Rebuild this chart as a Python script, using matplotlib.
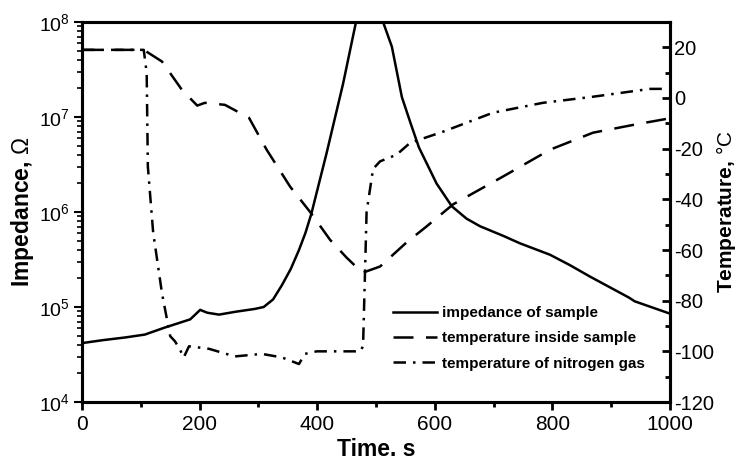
import numpy as np
import matplotlib
matplotlib.use("Agg")
import matplotlib.pyplot as plt
from matplotlib.ticker import MultipleLocator, LogLocator, NullFormatter
from matplotlib.lines import Line2D

plt.rcParams['font.family'] = ['Liberation Sans', 'DejaVu Sans']
plt.rcParams['mathtext.fontset'] = 'custom'
plt.rcParams['mathtext.rm'] = 'Liberation Sans'
plt.rcParams['mathtext.it'] = 'Liberation Sans'
plt.rcParams['axes.unicode_minus'] = False

# impedance of sample (log10 of ohm)
t_imp = [0, 34, 74, 107, 139, 184, 201, 213, 233, 261, 294, 309, 325, 340, 355, 369, 380, 390,
         416, 444, 466, 478, 490, 500, 512, 527, 544, 558, 573, 603, 629, 654, 677, 716, 745,
         796, 830, 864, 930, 935, 940, 1000]
log_imp = [4.62, 4.65, 4.68, 4.71, 4.78, 4.87, 4.97, 4.94, 4.92, 4.95, 4.98, 5.0, 5.08, 5.23,
           5.40, 5.6, 5.78, 5.98, 6.62, 7.35, 8.0, 8.3, 8.4, 8.3, 8.0, 7.74, 7.21, 6.95, 6.68,
           6.30, 6.06, 5.93, 5.85, 5.75, 5.67, 5.55, 5.44, 5.32, 5.10, 5.08, 5.06, 4.93]
imp = [10 ** v for v in log_imp]

# temperature inside sample (degC)
t_in = [0, 105, 136, 170, 196, 209, 243, 284, 314, 354, 388, 422, 450, 477, 507, 552, 586,
        631, 716, 796, 869, 940, 1000]
T_in = [19, 19, 14.4, 3.2, -3, -1.9, -2.7, -7.8, -20.4, -35, -45, -56, -63, -69, -66.5, -57,
        -50.7, -42, -31, -20.4, -13.7, -10.5, -8]

# temperature of nitrogen gas (degC)
t_gas = [0, 105, 110, 112, 121, 136, 150, 158, 166, 173, 182, 196, 216, 260, 306, 340, 369,
         379, 399, 439, 473, 478, 484, 495, 507, 535, 558, 614, 699, 784, 869, 966, 990]
T_gas = [19, 19, 10, -27, -53, -77, -94, -96, -99, -102.4, -98, -98.4, -99, -102, -101, -102.4,
         -105, -101, -100, -100, -100, -98, -45, -28, -25, -22.4, -17.7, -13.3, -5.8, -1.9, 0.5,
         3.6, 3.6]

labels = ["impedance of sample", "temperature inside sample", "temperature of nitrogen gas"]

fig = plt.figure(figsize=(7.4, 4.63), dpi=100)
ax = fig.add_axes([0.1108, 0.1317, 0.7946, 0.8208])
ax2 = ax.twinx()

lw = 1.8
dash_in = (8, 5)
dash_gas = (5, 2.8, 1, 2.8)
ax.plot(t_imp, imp, color='black', lw=lw)
ax2.plot(t_in, T_in, color='black', lw=lw, dashes=dash_in)
ax2.plot(t_gas, T_gas, color='black', lw=lw, dashes=dash_gas)

ax.set_yscale('log')
ax.set_xlim(0, 1000)
ax.set_ylim(1e4, 1e8)
ax2.set_ylim(-120, 30)

ax.xaxis.set_major_locator(MultipleLocator(200))
ax.xaxis.set_minor_locator(MultipleLocator(100))
ax.yaxis.set_major_locator(LogLocator(base=10, numticks=10))
ax.yaxis.set_minor_locator(LogLocator(base=10, subs=np.arange(2, 10), numticks=20))
ax.yaxis.set_minor_formatter(NullFormatter())
ax2.yaxis.set_major_locator(MultipleLocator(20))
ax2.yaxis.set_minor_locator(MultipleLocator(10))

for a in (ax, ax2):
    for s in a.spines.values():
        s.set_linewidth(2.2)

ax.tick_params(axis='x', which='major', direction='out', length=6, width=2, labelsize=15, pad=3)
ax.tick_params(axis='x', which='minor', direction='out', length=3.5, width=2)
ax.tick_params(axis='y', which='major', direction='out', length=6, width=1.5, labelsize=14, pad=3)
ax.tick_params(axis='y', which='minor', direction='out', length=3.5, width=1.2)
ax2.tick_params(axis='y', which='major', direction='in', length=6, width=2, labelsize=14.5, pad=3)
ax2.tick_params(axis='y', which='minor', direction='in', length=3.5, width=2)

ax.set_xlabel("Time. s", fontsize=16.5, fontweight='bold', labelpad=3)
ax.set_ylabel(r"Impedance, $\mathrm{\Omega}$", fontsize=16.5, fontweight='bold', labelpad=2)
ax2.set_ylabel("Temperature, $\\mathrm{°C}$", fontsize=15, fontweight='bold', labelpad=0)

handles = [Line2D([], [], color='black', lw=lw),
           Line2D([], [], color='black', lw=lw, dashes=dash_in),
           Line2D([], [], color='black', lw=lw, dashes=dash_gas)]
ax2.legend(handles, labels, loc='upper left', bbox_to_anchor=(0.529, 0.253), frameon=False,
           prop={'weight': 'bold', 'size': 11}, handlelength=2.9, handletextpad=0.3,
           labelspacing=0.75, borderpad=0, borderaxespad=0)

fig.savefig("out.png", dpi=100)
